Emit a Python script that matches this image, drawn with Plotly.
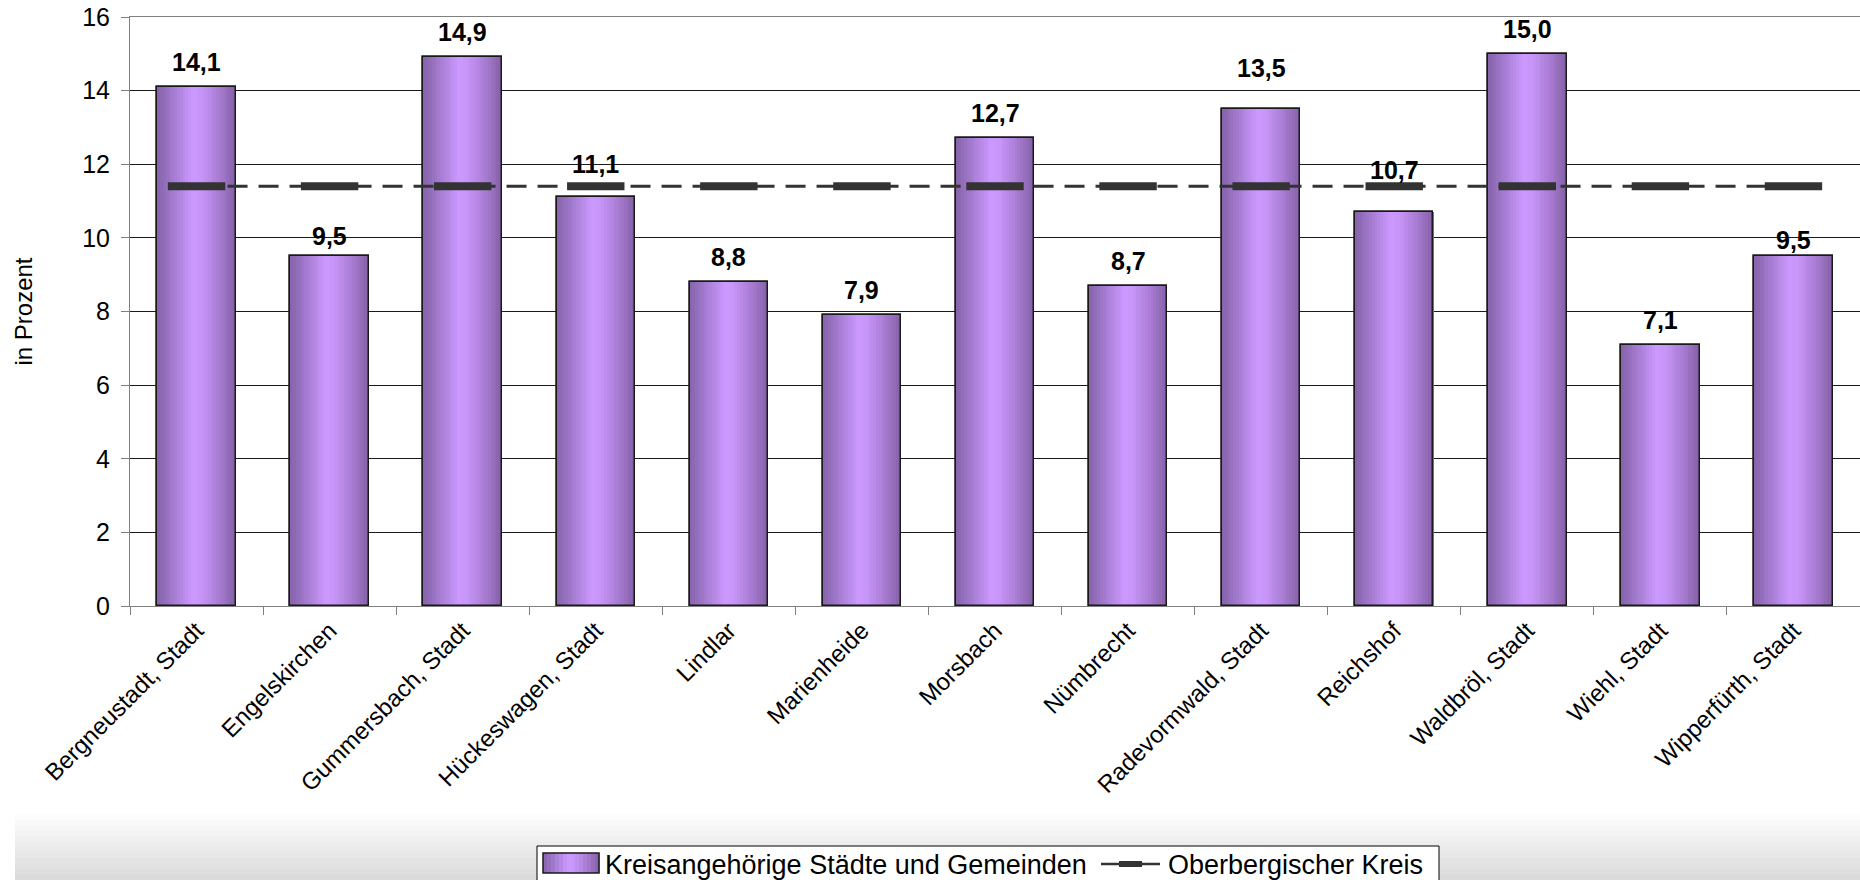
import plotly.graph_objects as go

# Anteil je Kommune (in Prozent)
gemeinden = [
    "Bergneustadt, Stadt", "Engelskirchen", "Gummersbach, Stadt",
    "Hückeswagen, Stadt", "Lindlar", "Marienheide", "Morsbach",
    "Nümbrecht", "Radevormwald, Stadt", "Reichshof", "Waldbröl, Stadt",
    "Wiehl, Stadt", "Wipperfürth, Stadt",
]
anteil = [14.1, 9.5, 14.9, 11.1, 8.8, 7.9, 12.7, 8.7, 13.5, 10.7, 15.0, 7.1, 9.5]
kreis_wert = [11.4, 11.4, 11.4, 11.4, 11.4, 11.4, 11.4, 11.4, 11.4, 11.4, 11.4, 11.4, 11.4]
y_ticks = [0, 2, 4, 6, 8, 10, 12, 14, 16]

name_bars = "Kreisangehörige Städte und Gemeinden"
name_line = "Oberbergischer Kreis"

# vertical shift (px) of each value label above its bar
label_shift = [25, 20, 25, 33, 25, 25, 25, 25, 41, 42, 25, 25, 16]

FONT = "Arial, Liberation Sans, sans-serif"
BAR_W = 0.59
N_STRIPS = 28

# page geometry (px)
W, H = 1860, 880
ML, MR, MT, MB = 130, 0, 17, 274
PW, PH = W - ML - MR, H - MT - MB

# horizontal shading of the bars: dark edges, light core
stops = [
    (0.00, (134, 99, 170)),
    (0.12, (150, 113, 192)),
    (0.45, (204, 153, 255)),
    (0.55, (200, 150, 250)),
    (0.80, (166, 123, 207)),
    (1.00, (130, 95, 164)),
]


def shade(t):
    for (p0, c0), (p1, c1) in zip(stops[:-1], stops[1:]):
        if p0 <= t <= p1:
            f = (t - p0) / (p1 - p0)
            r, g, b = (round(a + (b_ - a) * f) for a, b_ in zip(c0, c1))
            return f"rgb({r},{g},{b})"
    return "rgb(%d,%d,%d)" % stops[-1][1]


def px_x(px):
    return (px - ML) / PW


def px_y(py):
    return (H - MB - py) / PH


fig = go.Figure()

# base layer of the bars
fig.add_trace(go.Bar(
    x=gemeinden, y=anteil, width=BAR_W, offset=-BAR_W / 2,
    name=name_bars,
    marker=dict(color="#B98AEE", line=dict(color="#1a1a1a", width=1.5)),
    hoverinfo="skip",
))

# shaded strips
sw = BAR_W / N_STRIPS
for i in range(N_STRIPS):
    fig.add_trace(go.Bar(
        x=gemeinden, y=anteil, width=sw * 1.02, offset=-BAR_W / 2 + i * sw,
        marker=dict(color=shade((i + 0.5) / N_STRIPS), line=dict(width=0)),
        hoverinfo="skip",
    ))

# bar outlines on top
fig.add_trace(go.Bar(
    x=gemeinden, y=anteil, width=BAR_W, offset=-BAR_W / 2,
    marker=dict(color="rgba(0,0,0,0)", line=dict(color="#1a1a1a", width=1.5)),
    name=name_bars,
    hovertemplate="%{x}: %{y:.1f}<extra></extra>",
))

# district reference line
fig.add_trace(go.Scatter(
    x=gemeinden, y=kreis_wert, mode="lines+markers",
    name=name_line,
    line=dict(color="#333333", width=3, dash="20px,11px"),
    marker=dict(symbol="line-ew", size=41,
                line=dict(color="#333333", width=8)),
    hovertemplate=name_line + ": %{y:.1f}<extra></extra>",
))

# value labels
for g, v, s in zip(gemeinden, anteil, label_shift):
    fig.add_annotation(
        x=g, y=v, text=f"<b>{v:.1f}</b>".replace(".", ","),
        showarrow=False, yanchor="middle", yshift=s,
        font=dict(family=FONT, size=25, color="#000000"),
    )

# soft grey band along the bottom edge
n_band = 12
for k in range(n_band):
    fig.add_shape(
        type="rect", xref="paper", yref="paper",
        x0=px_x(15), x1=px_x(W + 10),
        y0=px_y(814 + k * 5.5), y1=px_y(H + 20),
        fillcolor="rgba(0,0,0,0.011)", line=dict(width=0), layer="below",
    )

# legend box
fig.add_shape(
    type="rect", xref="paper", yref="paper",
    x0=px_x(537), x1=px_x(1439), y0=px_y(846), y1=px_y(H + 20),
    fillcolor="white", line=dict(color="#000000", width=1),
)
# legend swatch for the bars (shaded like the bars)
sx0, sx1, sy0, sy1 = 543, 599, 853, 873
n_sw = 14
for i in range(n_sw):
    fig.add_shape(
        type="rect", xref="paper", yref="paper",
        x0=px_x(sx0 + (sx1 - sx0) * i / n_sw),
        x1=px_x(sx0 + (sx1 - sx0) * (i + 1) / n_sw + 0.5),
        y0=px_y(sy0), y1=px_y(sy1),
        fillcolor=shade((i + 0.5) / n_sw), line=dict(width=0),
    )
fig.add_shape(
    type="rect", xref="paper", yref="paper",
    x0=px_x(sx0), x1=px_x(sx1), y0=px_y(sy0), y1=px_y(sy1),
    fillcolor="rgba(0,0,0,0)", line=dict(color="#1a1a1a", width=1.5),
)
fig.add_annotation(
    xref="paper", yref="paper", x=px_x(603), y=px_y(865),
    xanchor="left", yanchor="middle", showarrow=False, text=name_bars,
    font=dict(family=FONT, size=27, color="#000000"),
)
# legend sample for the line
fig.add_shape(
    type="line", xref="paper", yref="paper",
    x0=px_x(1101), x1=px_x(1160), y0=px_y(864), y1=px_y(864),
    line=dict(color="#333333", width=2.5),
)
fig.add_shape(
    type="line", xref="paper", yref="paper",
    x0=px_x(1119), x1=px_x(1142), y0=px_y(864), y1=px_y(864),
    line=dict(color="#333333", width=6),
)
fig.add_annotation(
    xref="paper", yref="paper", x=px_x(1166), y=px_y(865),
    xanchor="left", yanchor="middle", showarrow=False, text=name_line,
    font=dict(family=FONT, size=27, color="#000000"),
)

fig.update_layout(
    width=W, height=H,
    margin=dict(l=ML, r=MR, t=MT, b=MB),
    paper_bgcolor="white", plot_bgcolor="white",
    barmode="overlay", bargap=0,
    font=dict(family=FONT, size=24, color="#000000"),
    showlegend=False,
    hovermode="closest",
)

fig.update_xaxes(
    type="category", range=[-0.5, 12.5],
    tickangle=-45, tickson="boundaries",
    ticks="outside", ticklen=8, tickcolor="#808080",
    showline=True, linecolor="#808080", linewidth=1, mirror=True,
    showgrid=False, zeroline=False, automargin=False,
    tickfont=dict(family=FONT, size=24, color="#000000"),
)

fig.update_yaxes(
    range=[0, 16], tickvals=y_ticks, ticktext=[str(t) for t in y_ticks],
    ticks="outside", ticklen=8, tickcolor="#808080",
    showline=True, linecolor="#808080", linewidth=1,
    showgrid=True, gridcolor="#1a1a1a", gridwidth=1,
    zeroline=False, automargin=False,
    tickfont=dict(family=FONT, size=25, color="#000000"),
    title=dict(text="in Prozent", standoff=42,
               font=dict(family=FONT, size=24, color="#000000")),
    ticklabelstandoff=6,
)

fig.write_html("out.html")
